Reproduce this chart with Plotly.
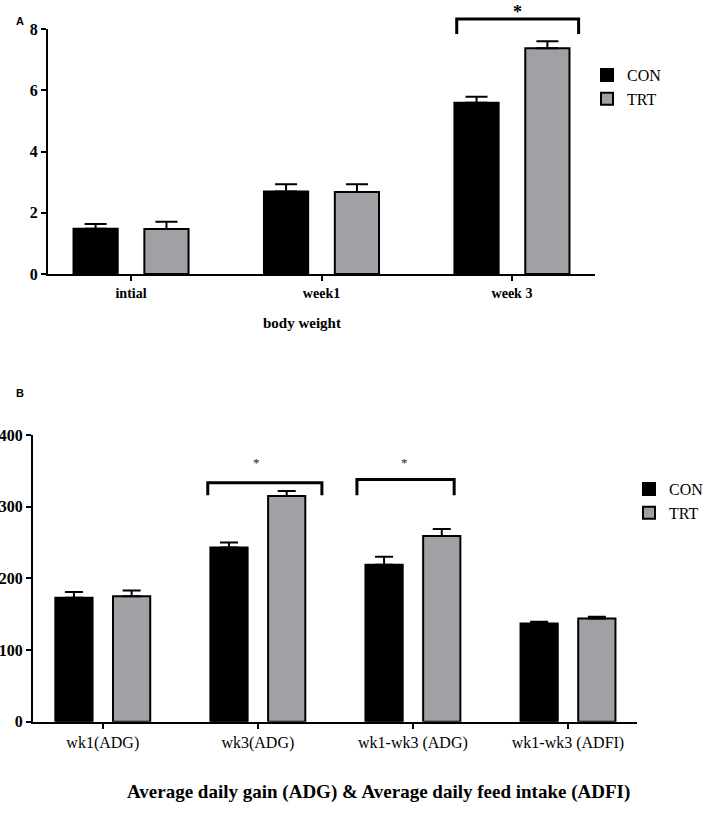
import plotly.graph_objects as go

# ---------------- data ----------------
groups = ["CON", "TRT"]
bw_categories = ["intial", "week1", "week 3"]
bw_con = [1.48, 2.69, 5.59]
bw_con_err = [0.15, 0.24, 0.20]
bw_trt = [1.47, 2.68, 7.37]
bw_trt_err = [0.24, 0.25, 0.23]
bw_yticks = [0, 2, 4, 6, 8]

gain_categories = ["wk1(ADG)", "wk3(ADG)", "wk1-wk3 (ADG)", "wk1-wk3 (ADFI)"]
gain_con = [173, 243, 219, 137]
gain_con_err = [8, 7, 11, 2.5]
gain_trt = [175, 315, 259, 144]
gain_trt_err = [8, 7, 10, 2.5]
gain_yticks = [0, 100, 200, 300, 400]

W, H = 708, 816
BLACK = "#000000"
GREY = "#a1a1a5"
SERIF = "Liberation Serif, Times New Roman, serif"
SANS = "Liberation Sans, Arial, sans-serif"


def px_x(p):
    return p / W


def px_y(p):
    return 1 - p / H


fig = go.Figure()

# ---------------- panel A ----------------
wA = 0.232
cA = 0.186
for name, vals, errs, col, off in [
    ("CON", bw_con, bw_con_err, BLACK, -cA - wA / 2),
    ("TRT", bw_trt, bw_trt_err, GREY, cA - wA / 2),
]:
    fig.add_trace(go.Bar(
        x=bw_categories, y=vals, name=name, width=wA, offset=off,
        marker=dict(color=col, line=dict(color=BLACK, width=2)),
        error_y=dict(type="data", array=errs, arrayminus=[0] * len(errs),
                     symmetric=False, color=BLACK, thickness=2, width=11),
        xaxis="x", yaxis="y", legend="legend",
    ))

# ---------------- panel B ----------------
wB = 0.24
cB = 0.186
for name, vals, errs, col, off in [
    ("CON", gain_con, gain_con_err, BLACK, -cB - wB / 2),
    ("TRT", gain_trt, gain_trt_err, GREY, cB - wB / 2),
]:
    fig.add_trace(go.Bar(
        x=gain_categories, y=vals, name=name, width=wB, offset=off,
        marker=dict(color=col, line=dict(color=BLACK, width=2)),
        error_y=dict(type="data", array=errs, arrayminus=[0] * len(errs),
                     symmetric=False, color=BLACK, thickness=2, width=9),
        xaxis="x2", yaxis="y2", legend="legend2",
    ))

axis_common = dict(showgrid=False, zeroline=False, showline=True, linecolor=BLACK,
                   linewidth=2, ticks="outside", tickcolor=BLACK, tickwidth=2, ticklen=5)

A_ymax = 8
fig.update_layout(
    width=W, height=H,
    margin=dict(l=0, r=0, t=0, b=0, autoexpand=False),
    paper_bgcolor="white", plot_bgcolor="white",
    barmode="overlay",
    xaxis=dict(domain=[px_x(48), px_x(595)], range=[-0.436, 2.436], type="category",
               anchor="y", tickvals=bw_categories,
               ticktext=[f"<b>{c}</b>" for c in bw_categories],
               tickfont=dict(family=SERIF, size=14, color=BLACK), **axis_common),
    yaxis=dict(domain=[px_y(274), px_y(29)], range=[0, A_ymax], anchor="x",
               tickvals=bw_yticks, ticktext=[f"<b>{v}</b>" for v in bw_yticks],
               tickfont=dict(family=SERIF, size=16, color=BLACK), **axis_common),
    xaxis2=dict(domain=[px_x(33), px_x(637)], range=[-0.45, 3.445], type="category",
                anchor="y2", tickfont=dict(family=SERIF, size=16, color=BLACK),
                **axis_common),
    yaxis2=dict(domain=[px_y(721.7), px_y(435)], range=[0, 400], anchor="x2",
                tickvals=gain_yticks, ticktext=[f"<b>{v}</b>" for v in gain_yticks],
                tickfont=dict(family=SERIF, size=16, color=BLACK), **axis_common),
    legend=dict(x=px_x(587), y=px_y(58), xanchor="left", yanchor="top",
                font=dict(family=SERIF, size=16, color=BLACK), bgcolor="rgba(0,0,0,0)",
                tracegroupgap=0, itemclick=False),
    legend2=dict(x=px_x(629), y=px_y(472), xanchor="left", yanchor="top",
                 font=dict(family=SERIF, size=16, color=BLACK), bgcolor="rgba(0,0,0,0)",
                 tracegroupgap=0, itemclick=False),
    showlegend=True,
)

# ---------------- significance brackets ----------------
# panel A (above axis range -> y given as fraction of y-domain)
a_br = dict(x0=1.71, x1=2.35, ytop=8.33, ybot=7.84)
fig.add_shape(type="path", xref="x", yref="y domain",
              path=(f"M {a_br['x0']},{a_br['ybot']/A_ymax} L {a_br['x0']},{a_br['ytop']/A_ymax} "
                    f"L {a_br['x1']},{a_br['ytop']/A_ymax} L {a_br['x1']},{a_br['ybot']/A_ymax}"),
              line=dict(color=BLACK, width=3))
fig.add_annotation(x=2.03, y=8.55 / A_ymax, xref="x", yref="y domain", text="<b>*</b>",
                   showarrow=False, yanchor="middle",
                   font=dict(family=SERIF, size=18, color=BLACK))

b_brackets = [
    dict(x0=0.677, x1=1.413, ytop=333.5, ybot=316, xs=0.994),
    dict(x0=1.639, x1=2.266, ytop=338, ybot=316, xs=1.944),
]
for br in b_brackets:
    fig.add_shape(type="path", xref="x2", yref="y2",
                  path=(f"M {br['x0']},{br['ybot']} L {br['x0']},{br['ytop']} "
                        f"L {br['x1']},{br['ytop']} L {br['x1']},{br['ybot']}"),
                  line=dict(color=BLACK, width=3))
    fig.add_annotation(x=br["xs"], y=349, xref="x2", yref="y2", text="*",
                       showarrow=False, yanchor="bottom",
                       font=dict(family=SERIF, size=13, color="#222222"))

# ---------------- titles and panel letters ----------------
fig.add_annotation(x=px_x(302), y=px_y(323), xref="paper", yref="paper",
                   text="<b>body weight</b>", showarrow=False,
                   font=dict(family=SERIF, size=15, color=BLACK))
fig.add_annotation(x=px_x(378), y=px_y(805), xref="paper", yref="paper",
                   text="<b>Average daily gain (ADG) &amp; Average daily feed intake (ADFI)</b>",
                   showarrow=False, font=dict(family=SERIF, size=19, color=BLACK))
fig.add_annotation(x=px_x(14), y=px_y(13), xref="paper", yref="paper",
                   text="<b>A</b>", showarrow=False,
                   font=dict(family=SANS, size=11, color=BLACK))
fig.add_annotation(x=px_x(14), y=px_y(393), xref="paper", yref="paper",
                   text="<b>B</b>", showarrow=False,
                   font=dict(family=SANS, size=11, color=BLACK))

fig.write_html("out.html", config={"displayModeBar": False},
               post_script="document.body.style.margin='0px';document.body.style.overflow='hidden';")
